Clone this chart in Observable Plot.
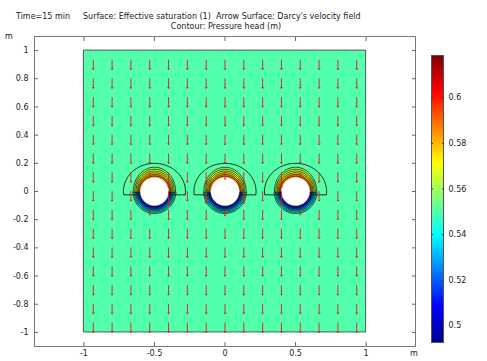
<!DOCTYPE html>
<html><head><meta charset="utf-8">
<script src="https://cdn.jsdelivr.net/npm/d3@7"></script>
<script src="https://cdn.jsdelivr.net/npm/@observablehq/plot@0.6"></script>
<style>
body{margin:0;background:#fff;}
#wrap{position:relative;width:487px;height:361px;font-family:"DejaVu Sans",sans-serif;font-size:8px;color:#222;overflow:hidden}
#wrap svg{position:absolute;left:0;top:0}
.t{position:absolute;white-space:pre;line-height:10px}
</style></head><body>
<div id="wrap"></div>
<script>
// ---- data ----
const titleLeft = "Time=15 min";
const titleMain = "Surface: Effective saturation (1)  Arrow Surface: Darcy's velocity field";
const titleLine2 = "Contour: Pressure head (m)";
const unitLabel = "m";

const xTicks = [-1, -0.5, 0, 0.5, 1];
const yTicks = [-1, -0.8, -0.6, -0.4, -0.2, 0, 0.2, 0.4, 0.6, 0.8, 1];
const colorTicks = [0.5, 0.52, 0.54, 0.56, 0.58, 0.6];
const colorMin = 0.4927, colorMax = 0.6185;

const domainX = [-1, 1];
const domainY = [-1, 1];
const satBackground = 0.55;

const holeX = [-0.5, 0, 0.5];
const holeY = [0, 0, 0];
const holeR = 0.1;

// wetter cap above each hole (outer -> inner)
const upperLevel = [0.551, 0.558, 0.565, 0.571, 0.577, 0.583, 0.59];
const upperRx    = [0.22, 0.15, 0.14, 0.131, 0.123, 0.115, 0.108];
const upperRy    = [0.20, 0.172, 0.158, 0.145, 0.133, 0.121, 0.11];
// drier cap below each hole (outer -> inner)
const lowerLevel = [0.546, 0.54, 0.533, 0.525, 0.516, 0.507, 0.498];
const lowerRx    = [0.152, 0.143, 0.135, 0.127, 0.12, 0.113, 0.106];
const lowerRy    = [0.156, 0.147, 0.138, 0.13, 0.122, 0.114, 0.106];

const gridX = [-0.9333, -0.8, -0.6667, -0.5333, -0.4, -0.2667, -0.1333, 0, 0.1333, 0.2667, 0.4, 0.5333, 0.6667, 0.8, 0.9333];
const gridY = [-0.9333, -0.8, -0.6667, -0.5333, -0.4, -0.2667, -0.1333, 0, 0.1333, 0.2667, 0.4, 0.5333, 0.6667, 0.8, 0.9333];
// relative Darcy speed where it differs from the uniform downward flow
const speedX = [-0.4, -0.4, -0.5333, -0.5333, -0.1333, -0.1333, 0, 0, 0.1333, 0.1333, 0.4, 0.4, 0.5333, 0.5333];
const speedY = [0.1333, 0, 0.1333, -0.1333, 0.1333, 0, 0.1333, -0.1333, 0.1333, 0, 0.1333, 0, 0.1333, -0.1333];
const speedV = [1.55, 1.45, 0.5, 0.5, 1.25, 1.25, 0.7, 0.6, 1.25, 1.25, 1.55, 1.45, 0.5, 0.5];

// ---- build ----
const jetT = [0, 0.125, 0.375, 0.625, 0.875, 1];
const jetColors = ["#00008f", "#0000ff", "#00ffff", "#ffff00", "#ff0000", "#800000"];
const colorOpts = () => ({type: "linear", domain: jetT.map(t => colorMin + t * (colorMax - colorMin)), range: jetColors, interpolate: "rgb", clamp: true});

function arc(cx, cy, rx, ry, a0, a1, id, level) {
  const n = 60, pts = [];
  for (let i = 0; i <= n; i++) {
    const a = (a0 + (a1 - a0) * i / n) * Math.PI / 180;
    pts.push({x: cx + rx * Math.cos(a), y: cy + ry * Math.sin(a), id, level});
  }
  return pts;
}
const capPts = [], contourClosed = [], contourOpen = [], holePts = [];
holeX.forEach((cx, h) => {
  const cy = holeY[h];
  upperLevel.forEach((v, i) => {
    const a0 = i === 0 ? -6 : -2, a1 = i === 0 ? 186 : 182;
    const p = arc(cx, cy, upperRx[i], upperRy[i], a0, a1, `u${h}-${i}`, v);
    capPts.push(...p);
    (i === 0 ? contourClosed : contourOpen).push(...p);
  });
  lowerLevel.forEach((v, i) => {
    const p = arc(cx, cy, lowerRx[i], lowerRy[i], 182, 358, `l${h}-${i}`, v);
    capPts.push(...p);
    contourOpen.push(...p);
  });
  holePts.push(...arc(cx, cy, holeR, holeR, 0, 360, `h${h}`, 0));
});

const arrows = [];
gridX.forEach(x => gridY.forEach(y => {
  const inside = holeX.some((cx, h) => Math.hypot(x - cx, y - holeY[h]) < holeR - 0.01);
  if (inside) return;
  const k = speedX.findIndex((sx, i) => Math.abs(sx - x) < 1e-3 && Math.abs(speedY[i] - y) < 1e-3);
  arrows.push({x, y, s: k >= 0 ? speedV[k] : 1});
}));

const fmt = d => String(d);
const main = Plot.plot({
  width: 487, height: 361,
  marginLeft: 34, marginRight: 72, marginTop: 36, marginBottom: 15,
  x: {domain: [-1.35, 1.35]},
  y: {domain: [-1.1, 1.1]},
  color: colorOpts(),
  length: {type: "linear", domain: [0, 1], range: [0, 9.5]},
  style: {fontFamily: "DejaVu Sans", fontSize: "8px", color: "#222", background: "transparent"},
  marks: [
    Plot.frame({stroke: "#7a7a7a"}),
    Plot.rect([{x1: domainX[0], x2: domainX[1], y1: domainY[0], y2: domainY[1], v: satBackground}],
      {x1: "x1", x2: "x2", y1: "y1", y2: "y2", fill: "v", stroke: "#555", strokeWidth: 1}),
    Plot.line(capPts, {x: "x", y: "y", z: "id", fill: "level", stroke: null, curve: "linear-closed"}),
    Plot.line(contourClosed, {x: "x", y: "y", z: "id", stroke: "#0f1a14", strokeWidth: 0.9, curve: "linear-closed"}),
    Plot.line(contourOpen, {x: "x", y: "y", z: "id", stroke: "#0f1a14", strokeWidth: 0.8}),
    Plot.line(holePts, {x: "x", y: "y", z: "id", fill: "white", stroke: "#d8d8d8", strokeWidth: 0.5, curve: "linear-closed"}),
    Plot.vector(arrows, {x: "x", y: "y", length: "s", rotate: 180, anchor: "start", r: 1.6, stroke: "#e41a1a", strokeWidth: 0.9}),
    Plot.axisX({anchor: "bottom", ticks: xTicks, tickSize: -4, tickPadding: 7.5, tickFormat: fmt, label: null, stroke: "#666"}),
    Plot.axisX({anchor: "top", ticks: xTicks, tickSize: -4, tickFormat: () => "", label: null, stroke: "#666"}),
    Plot.axisY({anchor: "left", ticks: yTicks, tickSize: -4, tickPadding: 10, tickFormat: fmt, label: null, stroke: "#666"}),
    Plot.axisY({anchor: "right", ticks: yTicks, tickSize: -4, tickFormat: () => "", label: null, stroke: "#666"})
  ]
});

const bar = Plot.plot({
  width: 487, height: 361,
  marginLeft: 431, marginRight: 44, marginTop: 55, marginBottom: 19,
  x: {domain: [0, 1], axis: null},
  y: {domain: [colorMin, colorMax]},
  color: colorOpts(),
  style: {fontFamily: "DejaVu Sans", fontSize: "8px", color: "#222", background: "transparent"},
  marks: [
    Plot.raster({x1: 0, x2: 1, y1: colorMin, y2: colorMax, width: 1, height: 300, fill: (x, y) => y}),
    Plot.frame({stroke: "#555"}),
    Plot.axisY({anchor: "right", ticks: colorTicks, tickSize: -2, tickPadding: 7, tickFormat: fmt, label: null, stroke: "#333"}),
    Plot.axisY({anchor: "left", ticks: colorTicks, tickSize: -2, tickFormat: () => "", label: null, stroke: "#333"})
  ]
});

const wrap = document.getElementById("wrap");
wrap.append(main, bar);
const addText = (txt, css) => { const d = document.createElement("div"); d.className = "t"; d.textContent = txt; d.style.cssText = css; wrap.append(d); };
addText(titleLeft, "left:16px;top:11.5px");
addText(titleMain, "left:83px;top:11.5px");
addText(titleLine2, "left:0;width:452px;text-align:center;top:22px");
addText(unitLabel, "left:5px;top:32px");
addText(unitLabel, "left:410px;top:349px");
</script>
</body></html>
